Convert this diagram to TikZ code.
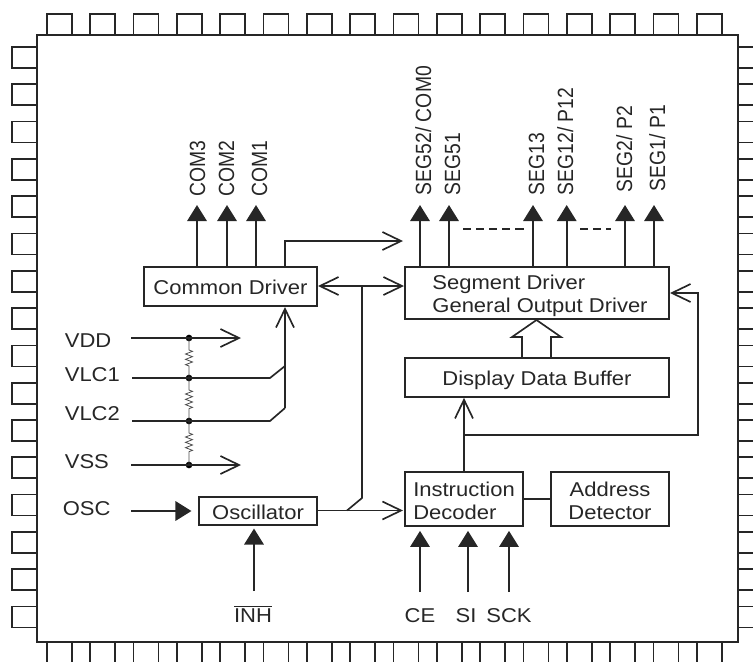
\documentclass[tikz,border=0pt]{standalone}
\usepackage{fontspec}
\setmainfont[FakeStretch=1.1]{Liberation Sans}
\newfontfamily\upfont[FakeStretch=0.88]{Liberation Sans}
\usetikzlibrary{arrows.meta}
\usetikzlibrary{decorations.pathmorphing}
\newcommand{\droptext}[2]{\raisebox{0pt}[\dimexpr\height+#1\relax]{#2}}

\begin{document}
\begin{tikzpicture}[
    x=0.75pt,y=-0.75pt,
    line width=1.25pt,
    font=\fontsize{15}{17.25}\selectfont
]
\tikzset{
    blockbox/.style = {draw=black!85, line width=1.3pt, inner sep=0pt, align=center, text=black!85},
    sigtext/.style = {inner sep=0pt, text=black!85},
    uptext/.style = {inner sep=0pt, text=black!85, rotate=90, anchor=base west, font=\fontsize{16.5}{18}\upfont},
    jdot/.style = {circle, fill=black, inner sep=0pt, minimum size=5pt},
    pinbox/.style = {draw=black!85, line width=1.25pt},
    edgen/.style = {draw=black!85},
    edgeo/.style = {draw=black!85, -{Straight Barb[length=14pt,width=13.5pt]}},
    edgeoo/.style = {draw=black!85, {Straight Barb[length=14pt,width=13.5pt]}-{Straight Barb[length=14pt,width=13.5pt]}},
    edgef/.style = {draw=black!85, line width=1.6pt, -{Triangle[length=12pt,width=14.5pt]}},
    resist/.style = {draw=black!70, line width=0.6pt, decorate,
        decoration={zigzag, segment length=4pt, amplitude=2.6pt, pre length=9pt, post length=9pt}}
}
\useasboundingbox (0,0) rectangle (753,662);

\draw[pinbox] (37,35) rectangle (738,642);
\foreach \i in {0,...,15} {
    \pgfmathsetmacro\px{47+43.33*\i}
    \pgfmathsetmacro\py{47+37.3*\i}
    \draw[pinbox] (\px,35) -- (\px,14) -- ({\px+25},14) -- ({\px+25},35);
    \draw[pinbox] (\px,642) -- (\px,662);
    \draw[pinbox] ({\px+25},642) -- ({\px+25},662);
    \draw[pinbox] (37,\py) -- (12,\py) -- (12,{\py+21}) -- (37,{\py+21});
    \draw[pinbox] (738,\py) -- (753,\py);
    \draw[pinbox] (738,{\py+21}) -- (753,{\py+21});
}

\node[blockbox, minimum width=173*0.75pt, minimum height=39*0.75pt] at (230.5,286.5) (comdrv) {\droptext{1.5pt}{Common Driver}};
\node[blockbox, minimum width=264*0.75pt, minimum height=52*0.75pt] at (537,293) (segdrv) {\hspace*{4.5pt}\droptext{5pt}{\begin{tabular}{@{}l@{}}Segment Driver\\General Output Driver\end{tabular}}};
\node[blockbox, minimum width=264*0.75pt, minimum height=39*0.75pt] at (537,377.5) (dispbuf) {\droptext{4.5pt}{Display Data Buffer}};
\node[blockbox, minimum width=118*0.75pt, minimum height=52*0.75pt] at (464,499) (instdec) {\droptext{6pt}{\begin{tabular}{@{}l@{}}Instruction\\Decoder\end{tabular}}};
\node[blockbox, minimum width=118*0.75pt, minimum height=52*0.75pt] at (610,499) (addrdet) {\droptext{6pt}{\begin{tabular}{@{}c@{}}Address\\Detector\end{tabular}}};
\node[blockbox, minimum width=118*0.75pt, minimum height=28*0.75pt] at (258,511) (oscbox) {\droptext{1.5pt}{Oscillator}};

\node[uptext] at (205,197) (com3) {COM3};
\node[uptext] at (234,197) (com2) {COM2};
\node[uptext] at (267,197) (com1) {COM1};
\node[uptext] at (431,196) (seg52) {SEG52/ COM0};
\node[uptext] at (460,196) (seg51) {SEG51};
\node[uptext] at (544,196) (seg13) {SEG13};
\node[uptext] at (573,196) (seg12) {SEG12/ P12};
\node[uptext] at (632,193) (seg2) {SEG2/ P2};
\node[uptext] at (665,192) (seg1) {SEG1/ P1};

\coordinate (com3t) at (197,205);
\coordinate (com2t) at (227,205);
\coordinate (com1t) at (256,205);
\coordinate (seg52t) at (420,205);
\coordinate (seg51t) at (449,205);
\coordinate (seg13t) at (533,205);
\coordinate (seg12t) at (566.7,205);
\coordinate (seg2t) at (625,205);
\coordinate (seg1t) at (654,205);
\draw[edgef] (comdrv.north -| com3t) -- (com3t);
\draw[edgef] (comdrv.north -| com2t) -- (com2t);
\draw[edgef] (comdrv.north -| com1t) -- (com1t);
\draw[edgef] (segdrv.north -| seg52t) -- (seg52t);
\draw[edgef] (segdrv.north -| seg51t) -- (seg51t);
\draw[edgef] (segdrv.north -| seg13t) -- (seg13t);
\draw[edgef] (segdrv.north -| seg12t) -- (seg12t);
\draw[edgef] (segdrv.north -| seg2t) -- (seg2t);
\draw[edgef] (segdrv.north -| seg1t) -- (seg1t);

\draw[edgen, dash pattern=on 6.2pt off 3.6pt] (463,229) -- (524,229);
\draw[edgen, dash pattern=on 6.2pt off 3.6pt] (580,229) -- (611,229);

\coordinate (comup) at (285,267);
\coordinate (comrt) at (403,241);
\draw[edgeo] (comup) |- (comrt);
\coordinate (busl) at (318,286);
\coordinate (busr) at (404,286);
\coordinate (busj) at (362,286);
\draw[edgeoo] (busl) -- (busr);
\draw[edgen] (busj) -- (362,498) -- (347,510.5);

\node[sigtext, anchor=west] at (64,341) (vdd) {VDD};
\node[sigtext, anchor=west] at (64,375) (vlc1) {VLC1};
\node[sigtext, anchor=west] at (64,414) (vlc2) {VLC2};
\node[sigtext, anchor=west] at (64,462) (vss) {VSS};
\node[sigtext, anchor=west] at (62,509) (osc) {OSC};
\node[jdot] at (189,338) (jvdd) {};
\node[jdot] at (189,378) (jvlc1) {};
\node[jdot] at (189,421) (jvlc2) {};
\node[jdot] at (189,465) (jvss) {};
\draw[resist] (jvdd.center) -- (jvlc1.center);
\draw[resist] (jvlc1.center) -- (jvlc2.center);
\draw[resist] (jvlc2.center) -- (jvss.center);

\coordinate (vdds) at (131,338);
\coordinate (vdde) at (241,338);
\coordinate (vsss) at (131,465);
\coordinate (vsse) at (241,465);
\coordinate (vlc1s) at (132,378);
\coordinate (vlc2s) at (132,421);
\coordinate (vup) at (285,307);
\draw[edgeo] (vdds) -- (vdde);
\draw[edgeo] (vsss) -- (vsse);
\draw[edgen] (vlc1s) -- (270,378) -- (285,366);
\draw[edgen] (vlc2s) -- (270,421) -- (285,408);
\draw[edgeo] (285,408) -- (vup);

\coordinate (oscs) at (131,511);
\draw[edgef, shorten >=5pt] (oscs) -- (oscbox.west |- oscs);
\coordinate (oscr) at (403,510.5);
\draw[edgeo] (oscbox.east |- oscr) -- (oscr);

\node[sigtext] at (253,614) (inh) {$\overline{\mbox{INH}}$};
\coordinate (inhs) at (254,591);
\draw[edgef, shorten >=2pt] (inhs) -- (oscbox.south -| inhs);

\node[sigtext] at (420,616) (ce) {CE};
\node[sigtext] at (466,616) (si) {SI};
\node[sigtext] at (509,616) (sck) {SCK};
\coordinate (ces) at (420,592);
\coordinate (sis) at (468,592);
\coordinate (scks) at (509,592);
\draw[edgef, shorten >=3pt] (ces) -- (instdec.south -| ces);
\draw[edgef, shorten >=3pt] (sis) -- (instdec.south -| sis);
\draw[edgef, shorten >=3pt] (scks) -- (instdec.south -| scks);

\draw[edgen] (instdec) -- (addrdet);
\draw[edgeo] (instdec.north) -- (dispbuf.south -| instdec.north);
\coordinate (fbj) at (464,435);
\coordinate (fbe) at (670,293);
\draw[edgeo] (fbj) -- (698,435) -- (698,293) -- (fbe);

\coordinate (fatl) at (522,358);
\coordinate (fatr) at (551,358);
\draw[edgen] (fatl) -- (522,337) -- (512,337) -- (536.5,320) -- (561,337) -- (551,337) -- (fatr);
\end{tikzpicture}
\end{document}
